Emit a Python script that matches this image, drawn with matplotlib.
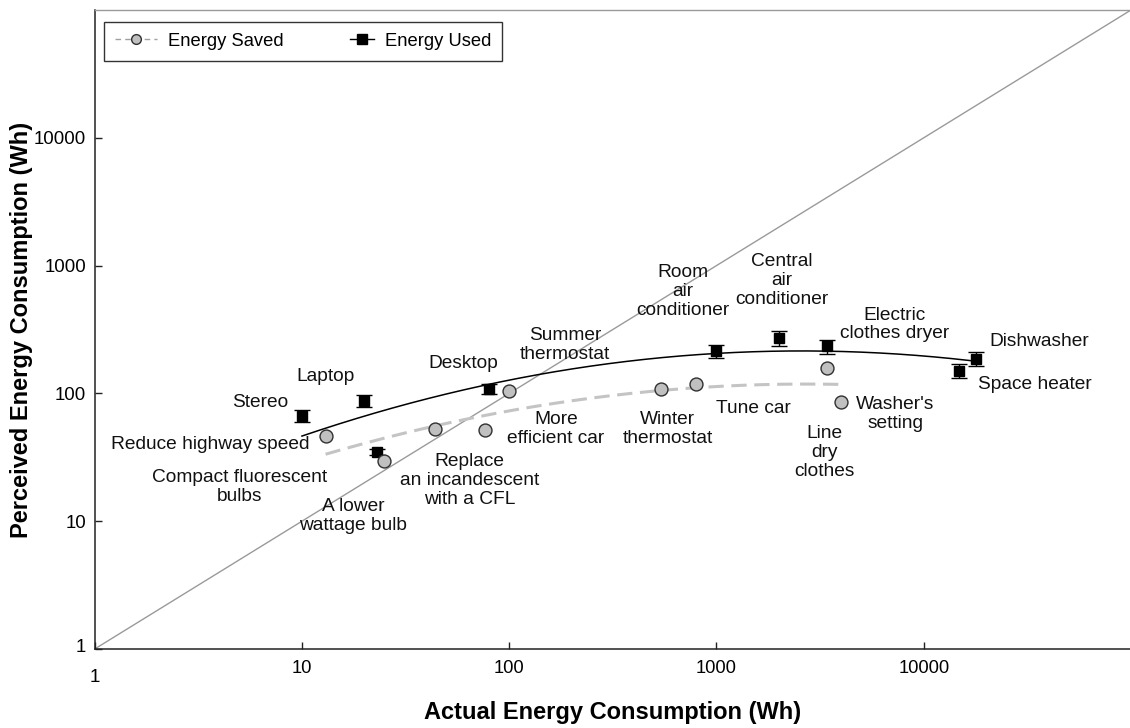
import numpy as np
import matplotlib
matplotlib.use("Agg")
import matplotlib.pyplot as plt
from matplotlib.legend_handler import HandlerLine2D
from matplotlib.lines import Line2D
from matplotlib.ticker import NullLocator
from matplotlib import font_manager
import matplotlib.transforms as mtransforms

# ---------------- data ----------------
used_items = ["Stereo", "Laptop", "Compact fluorescent\nbulbs", "Desktop",
              "Room\nair\nconditioner", "Central\nair\nconditioner",
              "Electric\nclothes dryer", "Space heater", "Dishwasher"]
used_actual = [10, 20, 23, 80, 1000, 2000, 3400, 14800, 17900]
used_perceived = [66.5, 86.6, 34.8, 108, 213, 270, 233, 149, 185]
used_low = [59.2, 77.7, 33.0, 98.7, 189, 235, 205, 131, 163]
used_high = [74.8, 96.5, 36.7, 118, 240, 310, 264, 169, 210]

saved_items = ["Reduce highway speed", "A lower\nwattage bulb", "Summer\nthermostat",
               "Replace\nan incandescent\nwith a CFL", "More\nefficient car",
               "Winter\nthermostat", "Tune car", "Line\ndry\nclothes",
               "Washer's\nsetting"]
saved_actual = [13, 25, 44, 76, 100, 540, 800, 3400, 4000]
saved_perceived = [46.7, 29.4, 52.3, 52, 104, 108, 118, 157, 85]

x_ticks = [1, 10, 100, 1000, 10000]
x_tick_labels = ["1", "10", "100", "1000", "10000"]
y_ticks = [1, 10, 100, 1000, 10000]
y_tick_labels = ["1", "10", "100", "1000", "10000"]

# ---------------- layout (label offsets in points) ----------------
label_offsets = {
    "Stereo": (-30, 9.5, "center"),
    "Laptop": (-28, 18, "center"),
    "Compact fluorescent\nbulbs": (-98.6, -25.2, "center"),
    "Desktop": (-18.7, 18.7, "center"),
    "Room\nair\nconditioner": (-24.3, 43.2, "center"),
    "Central\nair\nconditioner": (1.9, 41.5, "center"),
    "Electric\nclothes dryer": (49, 15.8, "center"),
    "Space heater": (54.3, -9.6, "center"),
    "Dishwasher": (45.4, 13, "center"),
    "Reduce highway speed": (-11.8, -6.3, "right"),
    "A lower\nwattage bulb": (-22.5, -39.6, "center"),
    "Summer\nthermostat": (93.6, 60.7, "center"),
    "Replace\nan incandescent\nwith a CFL": (-11, -36.5, "center"),
    "More\nefficient car": (33.6, -27.4, "center"),
    "Winter\nthermostat": (4.7, -29, "center"),
    "Tune car": (41.3, -17.5, "center"),
    "Line\ndry\nclothes": (-1.4, -60.8, "center"),
    "Washer's\nsetting": (39.1, -8.6, "center"),
}

plt.rcParams["font.family"] = ["Liberation Sans", "DejaVu Sans"]
installed = {f.name for f in font_manager.fontManager.ttflist}
narrow = "Liberation Sans Narrow" if "Liberation Sans Narrow" in installed else None

W, H = 1130, 728
fig = plt.figure(figsize=(W / 100, H / 100), dpi=100)
left_px, right_px, top_px, bot_px = 94.7, 1131, 10, 649
ax = fig.add_axes([left_px / W, (H - bot_px) / H, (right_px - left_px) / W, (bot_px - top_px) / H])
ax.set_xscale("log")
ax.set_yscale("log")
ax.set_xlim(1, 1e5)
ax.set_ylim(1, 1e5)

# diagonal y = x
ax.plot([1, 1e5], [1, 1e5], color="#9a9a9a", lw=1.0, zorder=1)

# trend lines (quadratic fit in log-log space)
def trend(xv, yv):
    lx, ly = np.log10(xv), np.log10(yv)
    c = np.polyfit(lx, ly, 2)
    xs = np.linspace(lx.min(), lx.max(), 300)
    return 10 ** xs, 10 ** np.polyval(c, xs)

tx, ty = trend(np.array(saved_actual, float), np.array(saved_perceived, float))
ax.plot(tx, ty, color="#c4c4c4", lw=2.2, ls=(0, (5, 2.5)), zorder=2)
tx, ty = trend(np.array(used_actual, float), np.array(used_perceived, float))
ax.plot(tx, ty, color="black", lw=1.1, zorder=2)

# Energy used squares with error bars
up = np.array(used_perceived)
ax.errorbar(used_actual, used_perceived,
            yerr=[up - np.array(used_low), np.array(used_high) - up],
            fmt="s", color="black", ms=6.8, capsize=6, elinewidth=1, capthick=1, zorder=4)

# Energy saved circles
ax.plot(saved_actual, saved_perceived, "o", ms=9.3, mfc="#c0c0c0", mec="#303030",
        mew=1.0, ls="none", zorder=5)

# labels
for name, xv, yv in list(zip(used_items, used_actual, used_perceived)) + \
        list(zip(saved_items, saved_actual, saved_perceived)):
    dx, dy, ha = label_offsets[name]
    ax.annotate(name, (xv, yv), xytext=(dx, dy), textcoords="offset points",
                ha=ha, va="center", fontsize=13.8, color="#111111",
                linespacing=1.15, zorder=6, multialignment="center")

# ticks
ax.set_xticks(x_ticks, labels=x_tick_labels)
ax.set_yticks(y_ticks, labels=y_tick_labels)
ax.xaxis.set_minor_locator(NullLocator())
ax.yaxis.set_minor_locator(NullLocator())
ax.tick_params(axis="both", direction="in", length=5, width=1, color="#222222")
ax.tick_params(axis="x", pad=8)
ax.tick_params(axis="y", pad=6, labelsize=13.4)
for lab in ax.get_xticklabels():
    if narrow:
        lab.set_fontfamily(narrow)
        lab.set_fontsize(15)
    else:
        lab.set_fontsize(13.2)
xl0 = ax.get_xticklabels()[0]
xl0.set_transform(xl0.get_transform() + mtransforms.ScaledTranslation(0, -9 / 100, fig.dpi_scale_trans))
xl0.set_fontfamily("Liberation Sans")
xl0.set_fontsize(13.6)
yl0 = ax.get_yticklabels()[0]
yl0.set_transform(yl0.get_transform() + mtransforms.ScaledTranslation(0, 4 / 100, fig.dpi_scale_trans))

for s in ["left", "bottom"]:
    ax.spines[s].set_color("#222222")
    ax.spines[s].set_linewidth(1.1)
for s in ["top", "right"]:
    ax.spines[s].set_color("#9a9a9a")
    ax.spines[s].set_linewidth(1.0)

# axis titles
fig.text(613 / W, 1 - 712 / H, "Actual Energy Consumption (Wh)", ha="center", va="center",
         fontsize=17, fontweight="bold")
fig.text(22 / W, 1 - 330 / H, "Perceived Energy Consumption (Wh)", ha="center", va="center",
         rotation=90, fontsize=17, fontweight="bold")

# legend
class EndMarkerHandler(HandlerLine2D):
    def __init__(self, frac=1.0, **kw):
        super().__init__(**kw)
        self.frac = frac

    def get_xdata(self, legend, xdescent, ydescent, width, height, fontsize):
        x0 = -xdescent + width * (1 - self.frac)
        return [x0, -xdescent + width], [-xdescent + width]

h_saved = Line2D([], [], color="#a0a0a0", lw=1.0, ls=(0, (4, 3)), marker="o", ms=7,
                 mfc="#c0c0c0", mec="#303030", mew=1.0)
h_used = Line2D([], [], color="black", lw=1.0, marker="s", ms=6.5, mfc="black", mec="black")
leg = ax.legend([h_saved, h_used], ["Energy Saved", "Energy Used"], ncol=2,
                loc="upper left", bbox_to_anchor=((104 - left_px) / (right_px - left_px),
                                                  (bot_px - 21.7) / (bot_px - top_px)),
                borderaxespad=0, fontsize=13.2, frameon=True, fancybox=False,
                edgecolor="black", handlelength=2.3, handletextpad=0.6,
                columnspacing=2.6, borderpad=0.6,
                handler_map={h_saved: EndMarkerHandler(1.0), h_used: EndMarkerHandler(0.55)})
leg.get_frame().set_linewidth(1.0)

fig.savefig("out.png", dpi=100)
